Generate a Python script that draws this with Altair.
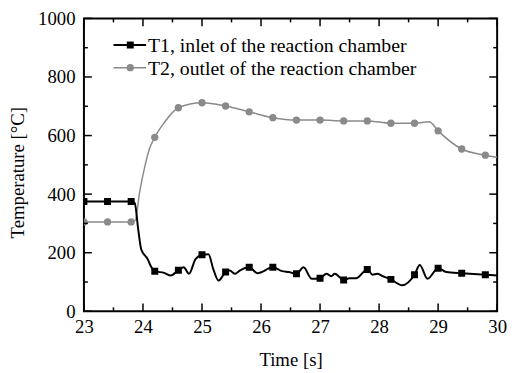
import altair as alt
import pandas as pd

# ---- data ----
marker_times = [23.0, 23.4, 23.8, 24.2, 24.6, 25.0, 25.4, 25.8, 26.2, 26.6,
                27.0, 27.4, 27.8, 28.2, 28.6, 29.0, 29.4, 29.8]
t1_markers = [375, 375, 375, 137, 140, 193, 134, 150, 150, 128,
              113, 107, 143, 109, 125, 147, 130, 125]
t2_markers = [305, 305, 305, 594, 695, 712, 701, 681, 661, 653,
              653, 650, 650, 642, 642, 616, 554, 533]

t1_line_t = [23.0, 23.4, 23.8, 23.86, 23.92, 23.97, 24.08, 24.14, 24.2, 24.36,
             24.47, 24.6, 24.69, 24.78, 24.89, 25.0, 25.11, 25.19, 25.28, 25.4,
             25.47, 25.56, 25.64, 25.8, 25.94, 26.2, 26.36, 26.47, 26.6, 26.72,
             26.86, 27.0, 27.11, 27.19, 27.25, 27.4, 27.5, 27.61, 27.8, 27.89,
             27.97, 28.06, 28.2, 28.39, 28.6, 28.69, 28.82, 29.0, 29.14, 29.4,
             29.8, 30.0]
t1_line_v = [375, 375, 375, 370, 279, 212, 178, 151, 137, 131,
             122, 140, 150, 128, 178, 193, 195, 145, 105, 134,
             139, 128, 139, 150, 130, 150, 137, 134, 128, 150,
             111, 113, 128, 120, 128, 107, 113, 113, 143, 125,
             128, 120, 109, 89, 125, 158, 111, 147, 134, 130,
             125, 122]

t2_line_t = [23.0, 23.4, 23.8, 23.87, 23.94, 24.03, 24.11, 24.2, 24.36, 24.6,
             25.0, 25.4, 25.8, 26.2, 26.6, 27.0, 27.4, 27.8, 28.2, 28.6,
             28.85, 29.0, 29.4, 29.8, 30.0]
t2_line_v = [305, 305, 305, 310, 403, 493, 555, 594, 644, 695,
             712, 701, 681, 661, 653, 653, 650, 650, 642, 642,
             647, 616, 554, 533, 526]

series_labels = ["T1, inlet of the reaction chamber",
                 "T2, outlet of the reaction chamber"]

x_major = [23, 24, 25, 26, 27, 28, 29, 30]
x_minor = [23.5, 24.5, 25.5, 26.5, 27.5, 28.5, 29.5]
y_major = [0, 200, 400, 600, 800, 1000]
y_minor = [100, 300, 500, 700, 900]

# ---- styling ----
W, H = 419, 297
FONT = "Liberation Serif, Times New Roman, Times, serif"
C1 = "#000000"
C2 = "#8a8a8a"

xscale = alt.Scale(domain=[23, 30], nice=False, zero=False)
yscale = alt.Scale(domain=[0, 1000], nice=False)

common = dict(labelFont=FONT, labelFontSize=19, labelColor="black",
              titleFont=FONT, titleFontSize=19, titleColor="black",
              titleFontWeight=400, ticks=False, domain=False, grid=False,
              format="d")

xaxis = alt.Axis(values=x_major, labelPadding=7, title="Time [s]", titleY=55,
                 titleBaseline="alphabetic", labelFlush=False, **common)
yaxis = alt.Axis(values=y_major, labelPadding=9, title="Temperature [°C]",
                 titleX=-61, titleY=156, titleBaseline="alphabetic",
                 titleAlign="center", titleAngle=270, **common)

X = alt.X("t:Q", scale=xscale, axis=xaxis)
Y = alt.Y("v:Q", scale=yscale, axis=yaxis)

df1 = pd.DataFrame({"t": t1_line_t, "v": t1_line_v})
df2 = pd.DataFrame({"t": t2_line_t, "v": t2_line_v})
m1 = pd.DataFrame({"t": marker_times, "v": t1_markers})
m2 = pd.DataFrame({"t": marker_times, "v": t2_markers})

line2 = alt.Chart(df2).mark_line(color=C2, strokeWidth=1.5, interpolate="monotone", clip=True).encode(x=X, y=Y)
line1 = alt.Chart(df1).mark_line(color=C1, strokeWidth=2, interpolate="monotone", clip=True).encode(x=X, y=Y)
pts2 = alt.Chart(m2).mark_point(shape="circle", filled=True, color=C2, size=55, opacity=1, clip=True).encode(x=X, y=Y)
pts1 = alt.Chart(m1).mark_point(shape="square", filled=True, color=C1, size=50, opacity=1, clip=True).encode(x=X, y=Y)

# inward ticks on all four sides
def xticks(vals, length):
    d = pd.DataFrame({"t": vals})
    bottom = alt.Chart(d).mark_rule(color="black", strokeWidth=1.5).encode(
        x=X, y=alt.value(H), y2=alt.value(H - length))
    top = alt.Chart(d).mark_rule(color="black", strokeWidth=1.5).encode(
        x=X, y=alt.value(0), y2=alt.value(length))
    return [bottom, top]

def yticks(vals, length):
    d = pd.DataFrame({"v": vals})
    left = alt.Chart(d).mark_rule(color="black", strokeWidth=1.5).encode(
        y=Y, x=alt.value(0), x2=alt.value(length))
    right = alt.Chart(d).mark_rule(color="black", strokeWidth=1.5).encode(
        y=Y, x=alt.value(W), x2=alt.value(W - length))
    return [left, right]

ticks = xticks(x_major, 8) + xticks(x_minor, 4) + yticks(y_major, 8) + yticks(y_minor, 4)

# legend drawn inside the plot
leg = []
styles = [(C1, "square", 50, 2), (C2, "circle", 55, 1.5)]
for i, (lab, (col, shp, sz, sw)) in enumerate(zip(series_labels, styles)):
    ld = pd.DataFrame({"label": [lab]})
    yy = 27 + 23 * i
    leg.append(alt.Chart(ld).mark_rule(color=col, strokeWidth=sw).encode(
        x=alt.value(30), x2=alt.value(63), y=alt.value(yy)))
    leg.append(alt.Chart(ld).mark_point(shape=shp, filled=True, color=col, size=sz, opacity=1).encode(
        x=alt.value(47), y=alt.value(yy)))
    leg.append(alt.Chart(ld).mark_text(font=FONT, fontSize=20, align="left", baseline="middle",
                                       color="black").encode(
        x=alt.value(65), y=alt.value(yy + 1), text="label:N"))

chart = alt.layer(line2, line1, pts2, pts1, *ticks, *leg).properties(
    width=W, height=H,
    autosize=alt.AutoSizeParams(type="none"),
    padding={"left": 77, "top": 8, "right": 10, "bottom": 58},
).configure_view(stroke="black", strokeWidth=2)

chart.save("out.html", embed_options={"renderer": "svg", "actions": False})
